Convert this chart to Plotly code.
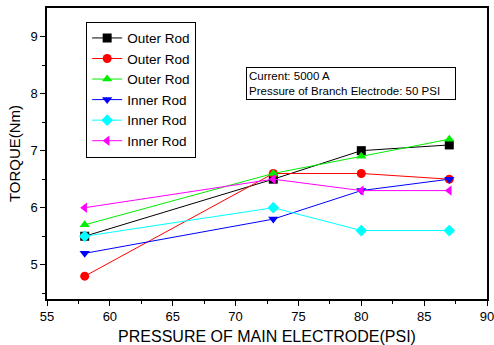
import plotly.graph_objects as go

x_vals = [58, 73, 80, 87]
names = ["Outer Rod", "Outer Rod", "Outer Rod", "Inner Rod", "Inner Rod", "Inner Rod"]
s_black = [5.5, 6.5, 7.0, 7.1]
s_red = [4.8, 6.6, 6.6, 6.5]
s_green = [5.7, 6.6, 6.9, 7.2]
s_blue = [5.2, 5.8, 6.3, 6.5]
s_cyan = [5.5, 6.0, 5.6, 5.6]
s_magenta = [6.0, 6.5, 6.3, 6.3]

x_ticks = [55, 60, 65, 70, 75, 80, 85, 90]
x_minor = [57.5, 62.5, 67.5, 72.5, 77.5, 82.5, 87.5]
y_ticks = [5, 6, 7, 8, 9]
y_minor = [4.5, 5.5, 6.5, 7.5, 8.5]

series = [s_black, s_red, s_green, s_blue, s_cyan, s_magenta]
colors = ["#000000", "#ff0000", "#00ee00", "#0000ff", "#00ffff", "#ff00ff"]
symbols = ["square", "circle", "triangle-up", "triangle-down", "diamond", "triangle-left"]

fig = go.Figure()
for name, ys, c, sym in zip(names, series, colors, symbols):
    fig.add_trace(go.Scatter(
        x=x_vals, y=ys, name=name, mode="lines+markers",
        line=dict(color=c, width=1),
        marker=dict(symbol=sym, color=c, size=9),
    ))

axis_common = dict(
    showline=True, linecolor="black", linewidth=1.5, mirror=True,
    ticks="outside", ticklen=5, tickwidth=1.2, tickcolor="black",
    showgrid=False, zeroline=False, automargin=False,
    ticklabeloverflow="allow",
    tickfont=dict(family="Liberation Sans, Arial", size=13, color="black"),
)

fig.update_layout(
    width=494, height=345,
    margin=dict(l=47, r=7, t=8, b=46),
    paper_bgcolor="white", plot_bgcolor="white",
    font=dict(family="Liberation Sans, Arial", color="black"),
    xaxis=dict(
        range=[55, 90], tickvals=x_ticks,
        minor=dict(tickvals=x_minor, ticks="outside", ticklen=3, tickcolor="black"),
        title=dict(text="PRESSURE OF MAIN ELECTRODE(PSI)", font=dict(size=16), standoff=8),
        **axis_common,
    ),
    yaxis=dict(
        range=[4.4, 9.5], tickvals=y_ticks,
        minor=dict(tickvals=y_minor, ticks="outside", ticklen=3, tickcolor="black"),
        title=dict(text="TORQUE(Nm)", font=dict(size=15), standoff=6),
        **axis_common,
    ),
    legend=dict(
        x=0.089, y=0.953, xanchor="left", yanchor="top",
        bgcolor="white", bordercolor="black", borderwidth=1,
        font=dict(size=13.5), tracegroupgap=0, itemwidth=30,
    ),
    annotations=[dict(
        x=0.452, y=0.797, xref="paper", yref="paper", xanchor="left", yanchor="top",
        text="Current: 5000 A<br>Pressure of Branch Electrode: 50 PSI",
        showarrow=False, align="left", font=dict(size=11.5), width=204,
        bordercolor="black", borderwidth=1, borderpad=2, bgcolor="white",
    )],
)

fig.write_html("out.html", config={"displayModeBar": False},
               post_script="document.body.style.margin='0px';")
